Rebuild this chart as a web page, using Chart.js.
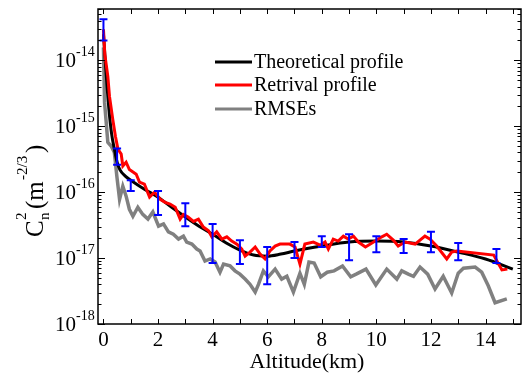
<!DOCTYPE html>
<html>
<head>
<meta charset="utf-8">
<script src="https://cdn.jsdelivr.net/npm/chart.js@4/dist/chart.umd.min.js"></script>
<style>
  html, body { margin: 0; padding: 0; background: #fff; }
  #wrap { width: 523px; height: 376px; }
</style>
</head>
<body>
<div id="wrap"><canvas id="myChart"></canvas></div>
<script>
// theoretical profile
const theoAlt = [0, 0.1, 0.2, 0.3, 0.4, 0.5, 0.6, 0.8, 1, 1.5, 2, 2.5, 3, 3.5, 4, 4.5, 5, 5.5, 6, 6.5, 7, 8, 9, 10, 11, 12, 13, 14, 15];
const theoCn2 = [2.5e-14, 6.1e-15, 1.8e-15, 7.6e-16, 4.5e-16, 2.85e-16, 2.2e-16, 1.75e-16, 1.52e-16, 1.11e-16, 8.4e-17, 5.9e-17, 4.2e-17, 3.05e-17, 2.3e-17, 1.69e-17, 1.32e-17, 1.11e-17, 1.07e-17, 1.15e-17, 1.28e-17, 1.52e-17, 1.75e-17, 1.81e-17, 1.75e-17, 1.52e-17, 1.23e-17, 9.7e-18, 6.8e-18];

// retrival profile
const retAlt = [0, 0.05, 0.16, 0.22, 0.34, 0.44, 0.53, 0.65, 0.71, 0.83, 0.95, 1.2, 1.32, 1.5, 1.69, 1.87, 2.08, 2.26, 2.44, 2.63, 2.81, 2.93, 3.1, 3.3, 3.48, 3.66, 3.85, 3.97, 4.15, 4.34, 4.52, 4.7, 4.89, 5.07, 5.19, 5.37, 5.56, 5.74, 5.92, 6.1, 6.29, 6.47, 6.83, 7.02, 7.2, 7.38, 7.69, 7.94, 8.12, 8.24, 8.42, 8.6, 8.79, 8.97, 9.16, 9.34, 9.6, 9.9, 10.2, 10.38, 10.62, 10.8, 11.05, 11.42, 11.78, 11.97, 12.21, 12.58, 12.76, 12.95, 14.3, 14.6, 14.8];
const retCn2 = [2.95e-14, 1.23e-14, 5.7e-15, 2.85e-15, 1.28e-15, 7.0e-16, 4.5e-16, 3.8e-16, 2.5e-16, 2.85e-16, 2.2e-16, 1.87e-16, 1.42e-16, 1.32e-16, 8.4e-17, 1.0e-16, 7.8e-17, 7.0e-17, 6.6e-17, 5.9e-17, 3.9e-17, 4.6e-17, 4.2e-17, 3.6e-17, 3.9e-17, 2.95e-17, 2.6e-17, 2.1e-17, 2.5e-17, 1.94e-17, 2.1e-17, 1.81e-17, 1.63e-17, 1.37e-17, 1.07e-17, 1.23e-17, 1.47e-17, 1.15e-17, 9.7e-18, 1.28e-17, 1.52e-17, 1.63e-17, 1.63e-17, 1.47e-17, 8.1e-18, 1.63e-17, 1.75e-17, 1.57e-17, 1.75e-17, 1.37e-17, 1.94e-17, 1.81e-17, 2.15e-17, 1.94e-17, 2.15e-17, 1.75e-17, 1.47e-17, 1.75e-17, 2.1e-17, 2.3e-17, 1.87e-17, 1.52e-17, 1.75e-17, 1.63e-17, 2.15e-17, 1.94e-17, 1.52e-17, 9.7e-18, 1.23e-17, 1.28e-17, 1.11e-17, 6.6e-18, 6.8e-18];

// RMSEs
const rmseAlt = [0, 0.04, 0.1, 0.16, 0.28, 0.4, 0.49, 0.59, 0.71, 0.83, 0.95, 1.08, 1.26, 1.44, 1.63, 1.81, 2.02, 2.2, 2.38, 2.56, 2.75, 2.93, 3.05, 3.24, 3.42, 3.54, 3.72, 3.91, 4.09, 4.27, 4.4, 4.64, 4.82, 5.0, 5.19, 5.37, 5.56, 5.68, 5.86, 6.04, 6.29, 6.53, 6.72, 6.96, 7.2, 7.36, 7.53, 7.72, 7.96, 8.2, 8.45, 8.76, 9.06, 9.26, 9.62, 9.98, 10.38, 10.75, 10.93, 11.17, 11.36, 11.6, 11.88, 12.15, 12.45, 12.76, 13.0, 13.19, 13.62, 13.86, 14.1, 14.35, 14.78];
const rmseCn2 = [1.57e-14, 2.3e-15, 1.15e-15, 5.7e-16, 5.0e-16, 4.0e-16, 1.75e-16, 7.8e-17, 1.23e-16, 8.7e-17, 5.5e-17, 4.3e-17, 5.9e-17, 4.6e-17, 3.9e-17, 5.0e-17, 3.05e-17, 3.3e-17, 2.5e-17, 2.3e-17, 1.94e-17, 2.15e-17, 1.75e-17, 1.63e-17, 1.37e-17, 1.28e-17, 9.0e-18, 9.7e-18, 8.7e-18, 6.1e-18, 8.1e-18, 7.6e-18, 6.4e-18, 5.7e-18, 4.8e-18, 4.0e-18, 3.05e-18, 4.0e-18, 6.4e-18, 5.2e-18, 6.8e-18, 4.8e-18, 5.3e-18, 3.05e-18, 5.9e-18, 4.0e-18, 8.7e-18, 8.4e-18, 5.2e-18, 6.1e-18, 6.4e-18, 7.6e-18, 5.2e-18, 5.7e-18, 6.8e-18, 3.9e-18, 6.8e-18, 4.8e-18, 6.4e-18, 5.7e-18, 5.3e-18, 7.3e-18, 5.7e-18, 3.4e-18, 5.3e-18, 2.95e-18, 5.9e-18, 7.0e-18, 7.3e-18, 6.1e-18, 3.8e-18, 2.1e-18, 2.4e-18];

// error bars (blue)
const errAlt  = [0, 0.5, 1, 2, 3, 4, 5, 6, 7, 8, 9, 10, 11, 12, 13, 14.4];
const errHigh = [4.2e-14, 4.6e-16, 1.52e-16, 1.04e-16, 6.8e-17, 3.3e-17, 1.87e-17, 1.47e-17, 1.75e-17, 2.15e-17, 2.3e-17, 2.15e-17, 1.94e-17, 2.5e-17, 1.69e-17, 1.37e-17];
const errLow  = [2.0e-14, 2.6e-16, 1.04e-16, 4.5e-17, 3.05e-17, 8.4e-18, 8.1e-18, 4.0e-18, 1.0e-17, 1.47e-17, 9.3e-18, 1.23e-17, 1.19e-17, 1.23e-17, 9.3e-18, 8.4e-18];

// axes
const xTicks = [0, 1, 2, 3, 4, 5, 6, 7, 8, 9, 10, 11, 12, 13, 14, 15];
const xLabels = [0, 2, 4, 6, 8, 10, 12, 14];
const yExps = [-18, -17, -16, -15, -14];

const legendNames = ['Theoretical profile', 'Retrival profile', 'RMSEs'];
const legendColors = ['#000000', '#ff0000', '#808080'];

function pts(xs, ys) {
  return xs.map(function (x, i) { return { x: x, y: ys[i] }; });
}

const SERIF = '"Liberation Serif", serif';

const decor = {
  id: 'decor',
  beforeDraw: function (chart) {
    const c = chart.ctx;
    c.save();
    c.fillStyle = '#fff';
    c.fillRect(0, 0, chart.width, chart.height);
    c.restore();
  },
  afterDatasetsDraw: function (chart) {
    const c = chart.ctx;
    const a = chart.chartArea;
    const xs = chart.scales.x, ys = chart.scales.y;
    c.save();

    // error bars
    c.strokeStyle = '#0000ff';
    c.lineWidth = 2;
    for (let i = 0; i < errAlt.length; i++) {
      const px = xs.getPixelForValue(errAlt[i]);
      const t = ys.getPixelForValue(errHigh[i]);
      const b = ys.getPixelForValue(errLow[i]);
      c.beginPath();
      c.moveTo(px, t); c.lineTo(px, b);
      c.moveTo(px - 4, t); c.lineTo(px + 4, t);
      c.moveTo(px - 4, b); c.lineTo(px + 4, b);
      c.stroke();
    }

    // frame
    c.strokeStyle = '#000';
    c.lineWidth = 1.5;
    c.strokeRect(a.left, a.top, a.right - a.left, a.bottom - a.top);

    // ticks
    c.lineWidth = 1;
    c.beginPath();
    xTicks.forEach(function (v) {
      const px = Math.round(xs.getPixelForValue(v)) + 0.5;
      c.moveTo(px, a.bottom); c.lineTo(px, a.bottom - 5);
      c.moveTo(px, a.top); c.lineTo(px, a.top + 5);
    });
    yExps.forEach(function (e) {
      for (let k = 1; k <= 9; k++) {
        const v = k * Math.pow(10, e);
        if (v < ys.min * 0.999 || v > ys.max) continue;
        const py = Math.round(ys.getPixelForValue(v)) + 0.5;
        const len = k === 1 ? 7 : 3.5;
        c.moveTo(a.left, py); c.lineTo(a.left + len, py);
        c.moveTo(a.right, py); c.lineTo(a.right - len, py);
      }
    });
    c.stroke();

    // tick labels
    c.fillStyle = '#000';
    c.textBaseline = 'middle';
    c.font = '21px ' + SERIF;
    c.textAlign = 'center';
    xLabels.forEach(function (v) {
      c.fillText(String(v), xs.getPixelForValue(v), 340);
    });
    yExps.forEach(function (e) {
      const py = ys.getPixelForValue(Math.pow(10, e));
      c.font = '21px ' + SERIF;
      c.textAlign = 'right';
      c.fillText('10', 76, py + 1);
      c.font = '14px ' + SERIF;
      c.textAlign = 'left';
      c.fillText('-' + String(-e), 76, py - 8);
    });

    // x title
    c.font = '22px ' + SERIF;
    c.textAlign = 'center';
    c.fillText('Altitude(km)', 307, 362);

    // y title, pieces placed along the rotated baseline
    c.save();
    c.translate(35, 191);
    c.rotate(-Math.PI / 2);
    c.textBaseline = 'alphabetic';
    c.textAlign = 'left';
    const big = '25px ' + SERIF, small = '15px ' + SERIF;
    c.font = big;   c.fillText('C', -46, 8);
    c.font = small; c.fillText('n', -29, 14);
    c.font = small; c.fillText('2', -29, -9);
    c.font = big;   c.fillText('(m', -18, 8);
    c.font = small; c.fillText('-2/3', 11, -8);
    c.font = big;   c.fillText(')', 38, 8);
    c.restore();

    // legend
    c.font = '20px ' + SERIF;
    c.textAlign = 'left';
    c.textBaseline = 'middle';
    c.lineWidth = 3;
    const rows = [62, 85, 109];
    legendNames.forEach(function (name, i) {
      c.strokeStyle = legendColors[i];
      c.beginPath();
      c.moveTo(215, rows[i]); c.lineTo(252, rows[i]);
      c.stroke();
      c.fillText(name, 254, rows[i] + 1);
    });

    c.restore();
  }
};

new Chart(document.getElementById('myChart'), {
  type: 'line',
  data: {
    datasets: [{
      label: legendNames[0],
      data: pts(theoAlt, theoCn2),
      borderColor: legendColors[0],
      borderWidth: 3,
      pointRadius: 0,
      cubicInterpolationMode: 'monotone',
      order: 2
    }, {
      label: legendNames[1],
      data: pts(retAlt, retCn2),
      borderColor: legendColors[1],
      borderWidth: 3,
      pointRadius: 0,
      order: 1
    }, {
      label: legendNames[2],
      data: pts(rmseAlt, rmseCn2),
      borderColor: legendColors[2],
      borderWidth: 3.5,
      pointRadius: 0,
      order: 3
    }]
  },
  options: {
    responsive: true,
    maintainAspectRatio: false,
    animation: false,
    devicePixelRatio: 1,
    layout: { padding: { top: 9, right: 2, left: 0, bottom: 0 } },
    plugins: { legend: { display: false }, tooltip: { enabled: false } },
    scales: {
      x: {
        type: 'linear', min: -0.2, max: 15.3,
        ticks: { display: false }, grid: { display: false }, border: { display: false },
        afterFit: function (s) { s.height = 52; }
      },
      y: {
        type: 'logarithmic', min: 1e-18, max: 6e-14,
        ticks: { display: false }, grid: { display: false }, border: { display: false },
        afterFit: function (s) { s.width = 98; }
      }
    }
  },
  plugins: [decor]
});
</script>
</body>
</html>
